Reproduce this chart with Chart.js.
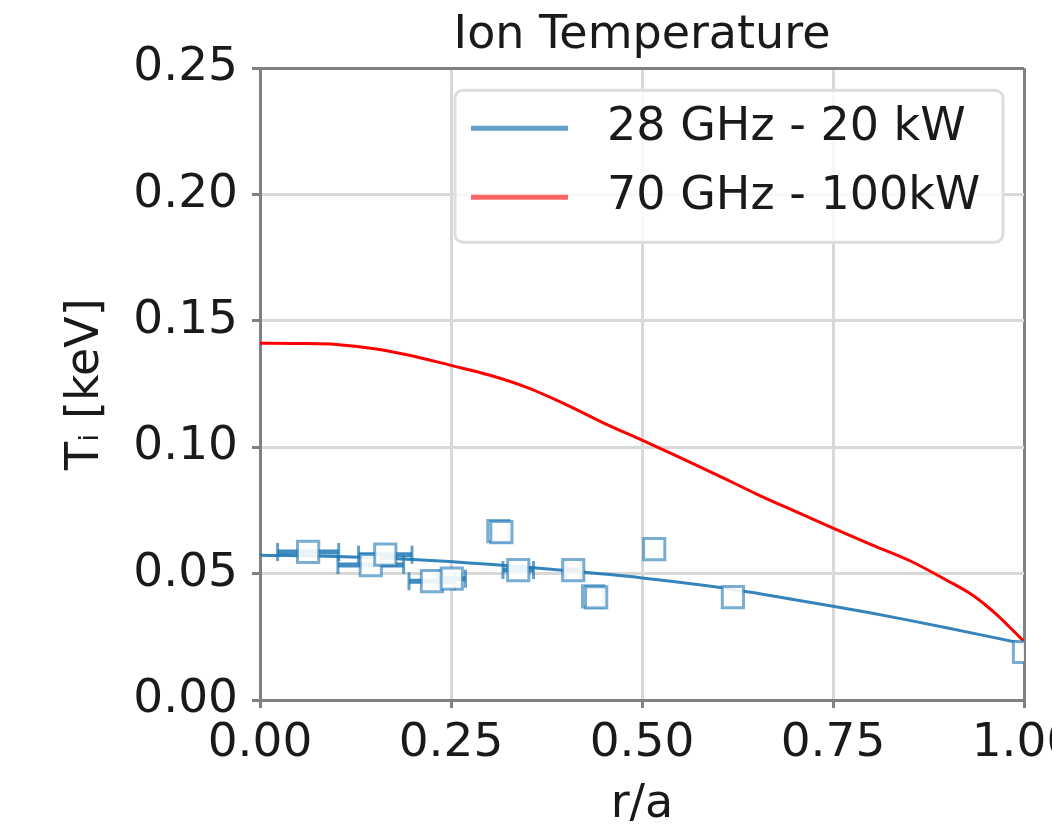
<!DOCTYPE html>
<html>
<head>
<meta charset="utf-8">
<title>Ion Temperature</title>
<script src="https://cdn.jsdelivr.net/npm/chart.js@4.4.0/dist/chart.umd.min.js"></script>
<style>
  html, body { margin: 0; padding: 0; background: #fff; overflow: hidden; }
</style>
</head>
<body>
<canvas id="tiChart" width="1052" height="828"></canvas>
<script>
// Modelled profile, 70 GHz - 100kW
const rModel70 = [0, 0.05, 0.1, 0.15, 0.2, 0.25, 0.3, 0.35, 0.4, 0.45, 0.5, 0.55, 0.6, 0.65, 0.7, 0.75, 0.8, 0.85, 0.9, 0.93, 0.95, 0.965, 0.98, 0.99, 1.0];
const tModel70 = [0.1412, 0.1411, 0.1407, 0.1390, 0.1361, 0.1324, 0.1286, 0.1236, 0.1170, 0.1096, 0.1028, 0.0959, 0.0888, 0.0815, 0.0747, 0.0680, 0.0615, 0.0552, 0.0472, 0.0420, 0.0375, 0.0336, 0.0292, 0.0262, 0.0232];

// Fitted profile, 28 GHz - 20 kW
const rFit28 = [0, 0.1, 0.2, 0.3, 0.4, 0.5, 0.6, 0.7, 0.8, 0.9, 1.0];
const tFit28 = [0.0573, 0.0568, 0.0556, 0.0537, 0.0512, 0.0483, 0.0446, 0.0397, 0.0344, 0.0285, 0.0222];

// Measured points (28 GHz) with radial error
const rMeas = [0.063, 0.145, 0.164, 0.225, 0.251, 0.312, 0.316, 0.338, 0.41, 0.436, 0.44, 0.516, 0.619, 1.0];
const tMeas = [0.0586, 0.0534, 0.0575, 0.047, 0.048, 0.0668, 0.0664, 0.0514, 0.0514, 0.0410, 0.0406, 0.0597, 0.0407, 0.019];
const rErr  = [0.04, 0.043, 0.035, 0.03, 0.018, 0, 0, 0.02, 0.01, 0, 0, 0, 0, 0];

const xTicks = [0, 0.25, 0.5, 0.75, 1.0];
const yTicks = [0, 0.05, 0.10, 0.15, 0.20, 0.25];

const FONT = '"DejaVu Sans", sans-serif';
const TEXT = '#1a1a1a';
const GRID = '#d8d8d8';
const SPINE = '#808080';

const toXY = (xs, ys) => xs.map((x, i) => ({ x: x, y: ys[i] }));

// horizontal error bars as separate segments, split by null points
const errData = [];
rMeas.forEach((r, i) => {
    if (!rErr[i]) return;
    errData.push({ x: r - rErr[i], y: tMeas[i] });
    errData.push({ x: r + rErr[i], y: tMeas[i] });
    errData.push({ x: r, y: null });
});

const legendItems = [
    { text: '28 GHz - 20 kW', color: 'rgba(31,119,180,0.7)' },
    { text: '70 GHz - 100kW', color: 'rgba(255,0,0,0.6)' }
];

// legend box drawn inside the plot, upper right
const insideLegend = {
    id: 'insideLegend',
    afterDraw(chart) {
        const { ctx, chartArea } = chart;
        const w = 548, h = 152;
        const x0 = chartArea.right - 21 - w;
        const y0 = chartArea.top + 22;
        ctx.save();
        ctx.fillStyle = 'rgba(255,255,255,0.85)';
        ctx.strokeStyle = '#dddddd';
        ctx.lineWidth = 3;
        ctx.beginPath();
        ctx.roundRect(x0, y0, w, h, 8);
        ctx.fill();
        ctx.stroke();
        legendItems.forEach((item, i) => {
            const y = y0 + 38 + i * 69;
            ctx.strokeStyle = item.color;
            ctx.lineWidth = 5;
            ctx.beginPath();
            ctx.moveTo(x0 + 16, y);
            ctx.lineTo(x0 + 113, y);
            ctx.stroke();
            ctx.fillStyle = TEXT;
            ctx.font = '46px ' + FONT;
            ctx.textBaseline = 'middle';
            ctx.textAlign = 'left';
            ctx.fillText(item.text, x0 + 152, y);
        });
        ctx.restore();
    }
};

const isEdge = (ctx, edge) => ctx.tick && Math.abs(ctx.tick.value - edge) < 1e-9;

new Chart(document.getElementById('tiChart'), {
    type: 'line',
    data: {
        datasets: [
            {
                label: '28 GHz - 20 kW (data)',
                type: 'scatter',
                data: toXY(rMeas, tMeas),
                pointStyle: 'rect',
                pointRadius: 15,
                pointBorderWidth: 3,
                pointBorderColor: 'rgba(31,119,180,0.6)',
                pointBackgroundColor: 'rgba(255,255,255,0.9)',
                order: 0
            },
            {
                label: 'error',
                data: errData,
                borderColor: 'rgba(31,119,180,0.85)',
                borderWidth: 5,
                spanGaps: false,
                pointStyle: 'line',
                rotation: 90,
                pointRadius: 9,
                pointBorderWidth: 3,
                pointBorderColor: 'rgba(31,119,180,0.7)',
                order: 1
            },
            {
                label: '28 GHz - 20 kW',
                data: toXY(rFit28, tFit28),
                borderColor: 'rgba(31,119,180,0.9)',
                borderWidth: 3,
                pointRadius: 0,
                tension: 0.3,
                order: 2
            },
            {
                label: '70 GHz - 100kW',
                data: toXY(rModel70, tModel70),
                borderColor: '#ff0000',
                borderWidth: 3,
                pointRadius: 0,
                cubicInterpolationMode: 'monotone',
                order: 3
            }
        ]
    },
    options: {
        responsive: false,
        animation: false,
        events: [],
        layout: { padding: { left: 0, right: 28, top: 0, bottom: 0 } },
        scales: {
            x: {
                type: 'linear',
                min: 0,
                max: 1,
                afterBuildTicks: (scale) => { scale.ticks = xTicks.map(v => ({ value: v })); },
                afterFit: (scale) => { scale.height = 128; scale.paddingLeft = 0; scale.paddingRight = 0; },
                ticks: {
                    font: { family: FONT, size: 47 },
                    color: TEXT,
                    padding: 8,
                    maxRotation: 0,
                    autoSkip: false,
                    callback: (v) => Number(v).toFixed(2)
                },
                grid: {
                    color: (ctx) => isEdge(ctx, 1) ? SPINE : GRID,
                    lineWidth: 3,
                    tickLength: 8,
                    tickColor: SPINE
                },
                border: { color: SPINE, width: 3 },
                title: {
                    display: true,
                    text: 'r/a',
                    font: { family: FONT, size: 46 },
                    color: TEXT,
                    padding: { top: 0, bottom: -5 }
                }
            },
            y: {
                type: 'linear',
                min: 0,
                max: 0.25,
                afterBuildTicks: (scale) => { scale.ticks = yTicks.map(v => ({ value: v })); },
                afterFit: (scale) => { scale.width = 260; scale.paddingTop = 0; scale.paddingBottom = 0; },
                ticks: {
                    font: { family: FONT, size: 47 },
                    color: TEXT,
                    padding: 14,
                    autoSkip: false,
                    callback: (v) => Number(v).toFixed(2)
                },
                grid: {
                    color: (ctx) => isEdge(ctx, 0.25) ? SPINE : GRID,
                    lineWidth: 3,
                    tickLength: 8,
                    tickColor: SPINE
                },
                border: { color: SPINE, width: 3 },
                title: {
                    display: true,
                    text: 'Tᵢ [keV]',
                    font: { family: FONT, size: 46 },
                    color: TEXT,
                    padding: { top: 58, bottom: 0 }
                }
            }
        },
        plugins: {
            legend: { display: false },
            tooltip: { enabled: false },
            title: {
                display: true,
                text: 'Ion Temperature',
                fullSize: false,
                font: { family: FONT, size: 46, weight: 'normal' },
                color: TEXT,
                padding: { top: 8, bottom: 5 }
            }
        }
    },
    plugins: [insideLegend]
});
</script>
</body>
</html>
